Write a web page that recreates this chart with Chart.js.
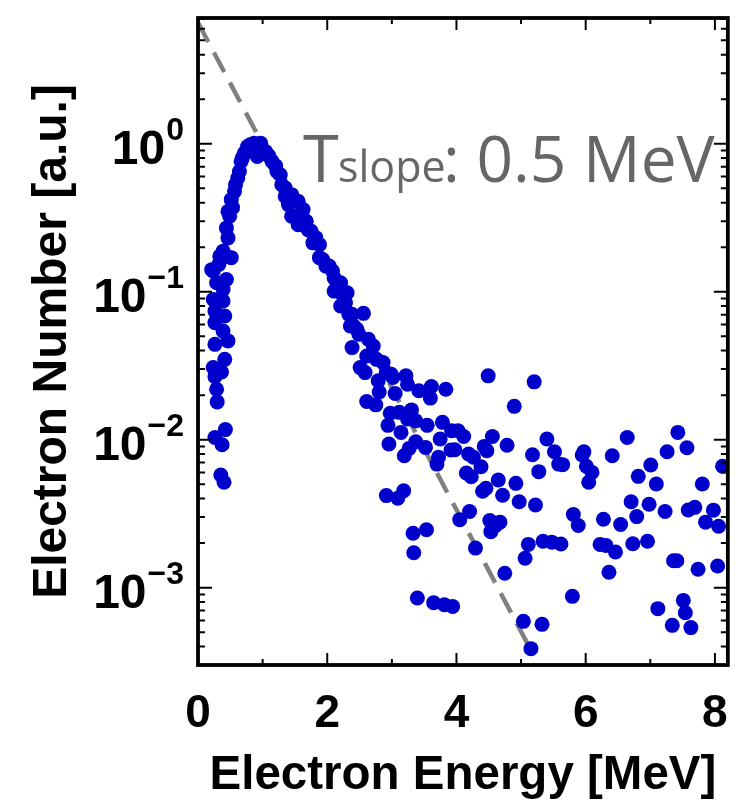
<!DOCTYPE html>
<html><head><meta charset="utf-8">
<script src="https://cdn.jsdelivr.net/npm/chart.js@4.4.1/dist/chart.umd.min.js"></script>
<style>html,body{margin:0;padding:0;background:#fff;}#wrap{width:750px;height:811px;}</style>
</head><body><div id="wrap"><canvas id="c" width="750" height="811"></canvas></div>
<script>
// Electron spectrum: energy (MeV) and electron number (a.u.)
const energyMeV = [
0.212,0.236,0.288,0.236,0.388,0.388,0.262,0.414,0.262,0.388,0.464,0.262,0.414,0.236,0.364,0.262,0.288,0.297,0.424,0.262,0.373,0.353,0.403,
0.440,0.515,0.338,0.388,0.464,0.440,0.490,0.464,0.515,0.565,0.615,0.641,0.667,0.717,0.767,0.868,0.970,0.918,0.440,0.535,0.580,0.687,0.808,0.323,
1.046,1.146,1.222,1.273,1.297,1.349,1.449,1.349,1.550,1.449,1.500,1.550,1.676,1.702,1.752,1.778,1.879,1.879,1.929,1.979,2.031,2.081,2.107,2.207,
2.107,2.233,2.308,2.207,2.283,2.334,2.384,2.561,2.410,2.358,2.460,2.384,2.637,2.713,2.611,2.763,2.510,2.586,2.864,2.914,2.990,2.789,3.016,3.218,
3.243,2.804,3.051,3.419,3.612,3.596,3.835,2.611,2.752,2.975,3.116,3.304,3.243,3.369,2.940,3.547,3.783,3.748,3.925,4.025,3.142,3.369,3.268,3.192,
2.955,3.521,3.915,3.722,3.698,2.915,3.092,3.183,3.328,3.536,3.339,3.395,3.647,3.813,3.941,
1.096,1.202,1.399,1.626,1.823,2.157,2.490,
4.491,5.203,4.895,4.112,4.556,3.975,4.430,4.471,4.783,4.188,4.263,5.177,5.400,5.517,5.582,5.643,5.274,4.153,4.229,4.380,4.647,4.920,4.404,4.456,
4.714,4.971,5.223,4.203,4.051,4.516,4.673,4.607,4.532,5.809,5.885,5.946,5.972,6.011,6.097,6.047,6.275,6.411,6.541,6.643,6.814,6.703,6.790,7.007,
7.093,6.981,7.229,7.260,7.426,7.567,7.805,7.587,7.689,7.977,7.855,8.057,8.118,
4.294,5.112,5.062,5.340,5.476,5.617,4.748,6.223,6.314,6.461,6.729,6.957,6.360,7.360,7.411,7.739,8.042,
5.794,5.036,5.324,5.153,7.117,7.511,7.542,7.340,7.628
];
const electronNumber = [
0.141,0.138,0.115,0.0887,0.1035,0.0865,0.0740,0.0685,0.0618,0.0542,0.0465,0.0441,0.0349,0.0307,0.0287,0.0266,0.0219,0.0180,0.0117,0.01035,0.00924,0.00577,0.00515,
0.174,0.170,0.174,0.188,0.231,0.270,0.324,0.349,0.419,0.477,0.587,0.650,0.760,0.865,0.959,1.01,1.01,0.821,0.121,0.370,0.529,0.805,0.985,0.153,
0.887,0.760,0.650,0.618,0.529,0.503,0.453,0.441,0.408,0.324,0.324,0.284,0.299,0.263,0.256,0.214,0.208,0.170,0.165,0.149,0.149,0.138,0.124,0.115,
0.101,0.0959,0.0985,0.0800,0.0843,0.0703,0.0703,0.0714,0.0586,0.0586,0.0557,0.0419,0.0477,0.0430,0.0368,0.0349,0.0307,0.0284,0.0332,0.0284,0.0277,0.0250,0.0263,0.0270,
0.0237,0.0210,0.0205,0.0214,0.0229,0.0191,0.0219,0.0181,0.0172,0.0151,0.0153,0.0159,0.0138,0.0134,0.0125,0.0125,0.0131,0.0101,0.0115,0.0115,0.0112,0.00968,0.00873,0.00778,
0.00934,0.00887,0.00851,0.00760,0.00684,0.00419,0.00402,0.00452,0.00233,0.00246,0.00172,0.000851,0.000791,0.000767,0.000747,
0.830,0.711,0.388,0.359,0.232,0.112,0.0515,
0.0270,0.0246,0.0168,0.0105,0.0105,0.00855,0.00901,0.00841,0.00916,0.00800,0.00760,0.00791,0.0101,0.00828,0.00684,0.00678,0.00608,0.00595,0.00562,0.00656,0.00534,0.00507,0.00448,0.00470,
0.00421,0.00381,0.00362,0.00327,0.00288,0.00284,0.00277,0.00263,0.00239,0.00312,0.00263,0.00787,0.00828,0.00661,0.00601,0.00515,0.00290,0.00778,0.00267,0.01035,0.00565,0.00381,0.00302,0.00675,
0.00502,0.00366,0.00327,0.00828,0.0112,0.00881,0.00502,0.00335,0.00349,0.00334,0.00277,0.00260,0.00661,
0.00185,0.00196,0.00158,0.00206,0.00203,0.00197,0.00125,0.00196,0.00193,0.00174,0.00198,0.00206,0.00127,0.00152,0.00152,0.00133,0.00140,
0.000873,0.000592,0.000565,0.000387,0.000721,0.000820,0.000677,0.000556,0.000537
];
// Exponential slope guide (T_slope = 0.5 MeV), end points
const slopeLineEnergy = [0, 5.11];
const slopeLineNumber = [6.6, 0.00041];
// Axis ticks
const xLabelTicks = [0, 2, 4, 6, 8];
const xMinorTicks = [1, 3, 5, 7];
const yDecadeExponents = [0, -1, -2, -3];
const xRange = [0, 8.2];
const yRange = [0.000307, 7.08];

const points = energyMeV.map((e, i) => ({x: e, y: electronNumber[i]}));
const slopeLine = slopeLineEnergy.map((e, i) => ({x: e, y: slopeLineNumber[i]}));

const AX_FONT = 'Liberation Sans, Arial, Helvetica, sans-serif';

const framePlugin = {
  id: 'frame',
  afterDraw(chart) {
    const ctx = chart.ctx;
    const a = chart.chartArea;
    const xs = chart.scales.x, ys = chart.scales.y;
    ctx.save();
    ctx.strokeStyle = '#000';
    ctx.lineCap = 'butt';
    // ticks (inward, all four sides)
    ctx.lineWidth = 2;
    const xt = xLabelTicks.map(v => [v, 12]).concat(xMinorTicks.map(v => [v, 6]));
    xt.forEach(([v, len]) => {
      const px = xs.getPixelForValue(v);
      ctx.beginPath();
      ctx.moveTo(px, a.bottom); ctx.lineTo(px, a.bottom - len);
      ctx.moveTo(px, a.top); ctx.lineTo(px, a.top + len);
      ctx.stroke();
    });
    for (let e = -4; e <= 0; e++) {
      for (let m = 1; m <= 9; m++) {
        const v = m * Math.pow(10, e);
        if (v < yRange[0] || v > yRange[1]) continue;
        const py = ys.getPixelForValue(v);
        const len = m === 1 ? 14 : 7;
        ctx.beginPath();
        ctx.moveTo(a.left, py); ctx.lineTo(a.left + len, py);
        ctx.moveTo(a.right, py); ctx.lineTo(a.right - len, py);
        ctx.stroke();
      }
    }
    // frame
    ctx.lineWidth = 3.8;
    ctx.strokeRect(a.left, a.top, a.right - a.left, a.bottom - a.top);
    // y decade labels 10^n
    ctx.fillStyle = '#000';
    ctx.textBaseline = 'alphabetic';
    ctx.textAlign = 'left';
    yDecadeExponents.forEach(n => {
      const py = ys.getPixelForValue(Math.pow(10, n));
      const sup = n === 0 ? '0' : '\u2212' + Math.abs(n);
      ctx.font = 'bold 32px ' + AX_FONT;
      const sw = ctx.measureText(sup).width;
      ctx.font = 'bold 48px ' + AX_FONT;
      const bw = ctx.measureText('10').width;
      const R = 184;
      ctx.fillText('10', R - sw - bw - 1, py + 20);
      ctx.font = 'bold 32px ' + AX_FONT;
      ctx.fillText(sup, R - sw, py - 4);
    });
    // annotation
    ctx.fillStyle = '#666666';
    ctx.font = '65px "Open Sans"';
    ctx.fillText('T', 303, 182);
    ctx.font = '43px "Open Sans"';
    ctx.fillText('slope', 338, 182);
    ctx.font = '64px "Open Sans"';
    ctx.fillText(': 0.5 MeV', 443, 182);
    ctx.restore();
  }
};

new Chart(document.getElementById('c'), {
  type: 'scatter',
  data: {
    datasets: [
      {
        label: 'electrons',
        data: points,
        backgroundColor: '#0000CC',
        borderColor: '#0000CC',
        borderWidth: 0,
        pointRadius: 7.5,
        pointHoverRadius: 7.5,
        order: 0
      },
      {
        label: 'slope',
        type: 'line',
        data: slopeLine,
        borderColor: '#808080',
        borderWidth: 4.5,
        borderDash: [22, 12],
        pointRadius: 0,
        fill: false,
        order: 1
      }
    ]
  },
  options: {
    responsive: false,
    animation: false,
    devicePixelRatio: 1,
    layout: {padding: {left: 0, right: 12, top: 18, bottom: 0}},
    plugins: {legend: {display: false}, tooltip: {enabled: false}},
    scales: {
      x: {
        type: 'linear',
        min: xRange[0], max: xRange[1],
        grid: {display: false, drawTicks: false},
        border: {display: false},
        ticks: {
          stepSize: 2, includeBounds: false, autoSkip: false, maxRotation: 0,
          color: '#000', padding: 22,
          font: {family: AX_FONT, weight: 'bold', size: 46}
        },
        title: {
          display: true, text: 'Electron Energy [MeV]', color: '#000',
          font: {family: AX_FONT, weight: 'bold', size: 47.5},
          padding: {top: 0, bottom: 7}
        },
        afterFit(s) { s.height = 146; }
      },
      y: {
        type: 'logarithmic',
        min: yRange[0], max: yRange[1],
        grid: {display: false, drawTicks: false},
        border: {display: false},
        ticks: {display: false},
        title: {
          display: true, text: 'Electron Number [a.u.]', color: '#000',
          font: {family: AX_FONT, weight: 'bold', size: 48},
          padding: {top: 24, bottom: 0}
        },
        afterFit(s) { s.width = 198; }
      }
    }
  },
  plugins: [framePlugin]
});
</script></body></html>
